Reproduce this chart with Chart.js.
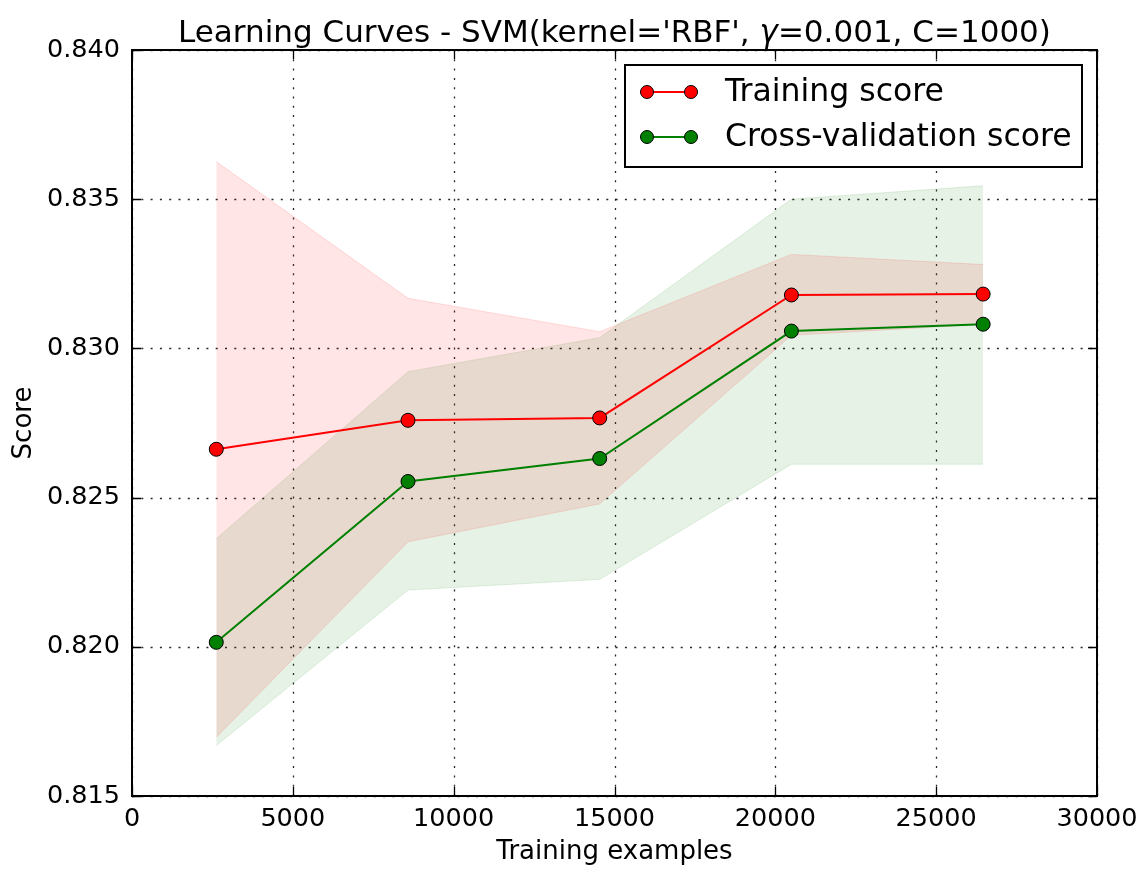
<!DOCTYPE html>
<html>
<head>
<meta charset="utf-8">
<title>Learning Curves</title>
<script src="https://cdn.jsdelivr.net/npm/chart.js@4.4.1/dist/chart.umd.min.js"></script>
<style>
    html, body {
        margin: 0;
        padding: 0;
        background: #ffffff;
    }
    .wrapper {
        width: 1148px;
        height: 869px;
    }
</style>
</head>
<body>
<div class="wrapper">
    <canvas id="learning_curve" width="1148" height="869"></canvas>
</div>
<script>
// values
const trainSizes = [2620, 8580, 14540, 20500, 26460];
const trainMean = [0.82662, 0.82759, 0.82767, 0.83179, 0.83182];
const trainUpper = [0.83626, 0.83168, 0.83056, 0.83315, 0.83281];
const trainLower = [0.81697, 0.82352, 0.82479, 0.83044, 0.83081];
const cvMean = [0.82015, 0.82554, 0.82631, 0.83058, 0.83081];
const cvUpper = [0.82362, 0.82922, 0.83036, 0.83500, 0.83545];
const cvLower = [0.81669, 0.82190, 0.82226, 0.82612, 0.82612];

const xTicks = [0, 5000, 10000, 15000, 20000, 25000, 30000];
const yTicks = [0.815, 0.820, 0.825, 0.830, 0.835, 0.840];

const seriesLabels = ["Training score", "Cross-validation score"];
// title pieces, the gamma is drawn in italic like matplotlib mathtext
const titleParts = [
    { text: "Learning Curves - SVM(kernel='RBF', ", italic: false },
    { text: "\u03b3", italic: true },
    { text: "=0.001, C=1000)", italic: false },
];
const xTitle = "Training examples";
const yTitle = "Score";

const FONT = "'DejaVu Sans', 'Bitstream Vera Sans', sans-serif";
const COLORS = {
    red: "#ff0000",
    green: "#008000",
    redFill: "rgba(255, 0, 0, 0.1)",
    greenFill: "rgba(0, 128, 0, 0.1)",
    redEdge: "rgba(255, 0, 0, 0.12)",
    greenEdge: "rgba(0, 128, 0, 0.12)",
};

const toPoints = (values) => trainSizes.map((x, i) => ({ x: x, y: values[i] }));

const bandDataset = (values, fill, bg, edge) => ({
    data: toPoints(values),
    fill: fill,
    backgroundColor: bg,
    borderColor: edge,
    borderWidth: 1,
    pointRadius: 0,
    tension: 0,
    order: 10,
});

const lineDataset = (label, values, color, order) => ({
    label: label,
    data: toPoints(values),
    fill: false,
    borderColor: color,
    borderWidth: 2,
    backgroundColor: color,
    pointRadius: 7,
    pointBorderColor: "#000000",
    pointBorderWidth: 1,
    pointBackgroundColor: color,
    tension: 0,
    order: order,
});

const drawTitle = (ctx, centerX, baseY) => {
    const size = 31;
    const fontFor = (part) => `${part.italic ? "italic " : ""}${size}px ${FONT}`;

    let total = 0;
    titleParts.forEach((part) => {
        ctx.font = fontFor(part);
        total += ctx.measureText(part.text).width;
    });

    let x = centerX - total / 2;
    ctx.textAlign = "left";
    ctx.textBaseline = "alphabetic";
    ctx.fillStyle = "#000000";
    titleParts.forEach((part) => {
        ctx.font = fontFor(part);
        ctx.fillText(part.text, x, baseY);
        x += ctx.measureText(part.text).width;
    });
};

// matplotlib style frame: dotted grid, box, inward ticks, legend and title
const framePlugin = {
    id: "frame",
    beforeDatasetsDraw(chart) {
        const { ctx, chartArea, scales } = chart;
        ctx.save();
        ctx.strokeStyle = "rgba(0, 0, 0, 0.85)";
        ctx.lineWidth = 1.3;
        ctx.setLineDash([2, 7.3]);
        xTicks.forEach((v) => {
            const px = Math.round(scales.x.getPixelForValue(v)) + 0.5;
            ctx.beginPath();
            ctx.moveTo(px, chartArea.bottom);
            ctx.lineTo(px, chartArea.top);
            ctx.stroke();
        });
        yTicks.forEach((v) => {
            const py = Math.round(scales.y.getPixelForValue(v)) + 0.5;
            ctx.beginPath();
            ctx.moveTo(chartArea.left, py);
            ctx.lineTo(chartArea.right, py);
            ctx.stroke();
        });
        ctx.restore();
    },
    afterDraw(chart) {
        const { ctx, chartArea, scales } = chart;
        const { left, right, top, bottom } = chartArea;
        ctx.save();

        // inward ticks on all four sides
        ctx.strokeStyle = "#000000";
        ctx.lineWidth = 1.3;
        const tickLen = 9;
        xTicks.forEach((v) => {
            const px = Math.round(scales.x.getPixelForValue(v)) + 0.5;
            ctx.beginPath();
            ctx.moveTo(px, bottom);
            ctx.lineTo(px, bottom - tickLen);
            ctx.moveTo(px, top);
            ctx.lineTo(px, top + tickLen);
            ctx.stroke();
        });
        yTicks.forEach((v) => {
            const py = Math.round(scales.y.getPixelForValue(v)) + 0.5;
            ctx.beginPath();
            ctx.moveTo(left, py);
            ctx.lineTo(left + tickLen, py);
            ctx.moveTo(right, py);
            ctx.lineTo(right - tickLen, py);
            ctx.stroke();
        });

        // box
        ctx.lineWidth = 2;
        ctx.strokeRect(left, top, right - left, bottom - top);

        drawTitle(ctx, (left + right) / 2, 42);

        // legend
        const box = { x: 625, y: 65, w: 457, h: 102 };
        ctx.fillStyle = "#ffffff";
        ctx.fillRect(box.x, box.y, box.w, box.h);
        ctx.lineWidth = 2;
        ctx.strokeStyle = "#000000";
        ctx.strokeRect(box.x, box.y, box.w, box.h);

        const rows = [
            { label: chart.data.datasets[4].label, color: COLORS.red, y: 92 },
            { label: chart.data.datasets[5].label, color: COLORS.green, y: 137 },
        ];
        rows.forEach((row) => {
            ctx.strokeStyle = row.color;
            ctx.lineWidth = 2;
            ctx.beginPath();
            ctx.moveTo(647, row.y);
            ctx.lineTo(691, row.y);
            ctx.stroke();
            [647, 691].forEach((cx) => {
                ctx.beginPath();
                ctx.arc(cx, row.y, 6.5, 0, Math.PI * 2);
                ctx.fillStyle = row.color;
                ctx.fill();
                ctx.lineWidth = 1;
                ctx.strokeStyle = "#000000";
                ctx.stroke();
            });
            ctx.fillStyle = "#000000";
            ctx.font = `31.5px ${FONT}`;
            ctx.textAlign = "left";
            ctx.textBaseline = "middle";
            ctx.fillText(row.label, 725, row.y + 1);
        });

        ctx.restore();
    }
};

(() => {
    const chartEle = document.getElementById("learning_curve");

    new Chart(chartEle, {
        type: "line",
        data: {
            datasets: [
                bandDataset(trainUpper, "+1", COLORS.redFill, COLORS.redEdge),
                bandDataset(trainLower, false, "transparent", COLORS.redEdge),
                bandDataset(cvUpper, "+1", COLORS.greenFill, COLORS.greenEdge),
                bandDataset(cvLower, false, "transparent", COLORS.greenEdge),
                lineDataset(seriesLabels[0], trainMean, COLORS.red, 2),
                lineDataset(seriesLabels[1], cvMean, COLORS.green, 1),
            ]
        },
        options: {
            responsive: false,
            animation: false,
            layout: {
                padding: { top: 50, right: 51, left: 0, bottom: 0 }
            },
            plugins: {
                legend: { display: false },
                title: { display: false },
                tooltip: { enabled: false },
            },
            scales: {
                x: {
                    type: "linear",
                    min: 0,
                    max: 30000,
                    afterBuildTicks: (scale) => {
                        scale.ticks = xTicks.map((v) => ({ value: v }));
                    },
                    afterFit: (scale) => {
                        scale.height = 73;
                    },
                    grid: { display: false, drawTicks: false },
                    border: { display: false },
                    ticks: {
                        color: "#000000",
                        padding: 8,
                        font: { family: FONT, size: 25.5 },
                        callback: (value) => String(value),
                    },
                    title: {
                        display: true,
                        text: xTitle,
                        color: "#000000",
                        font: { family: FONT, size: 26 },
                        padding: { top: 0, bottom: 1 },
                    },
                },
                y: {
                    type: "linear",
                    min: 0.815,
                    max: 0.840,
                    afterBuildTicks: (scale) => {
                        scale.ticks = yTicks.map((v) => ({ value: v }));
                    },
                    afterFit: (scale) => {
                        scale.width = 132;
                    },
                    grid: { display: false, drawTicks: false },
                    border: { display: false },
                    ticks: {
                        color: "#000000",
                        padding: 12,
                        font: { family: FONT, size: 25.5 },
                        callback: (value) => Number(value).toFixed(3),
                    },
                    title: {
                        display: true,
                        text: yTitle,
                        color: "#000000",
                        font: { family: FONT, size: 26 },
                        padding: { top: 9, bottom: 0 },
                    },
                },
            },
        },
        plugins: [framePlugin],
    });
})();
</script>
</body>
</html>
